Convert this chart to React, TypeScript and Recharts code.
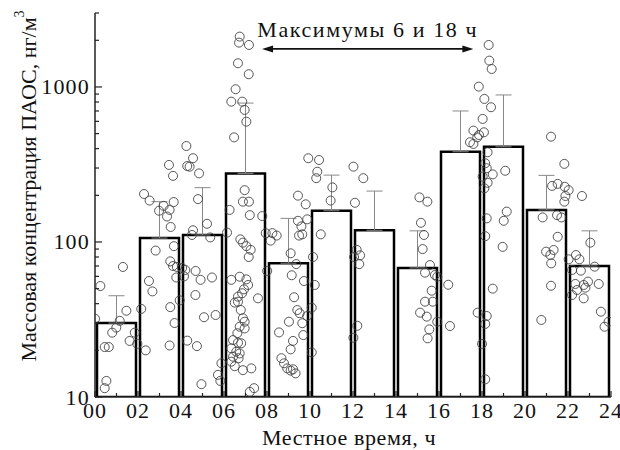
import { Bar, ComposedChart, ErrorBar, ReferenceLine, Scatter, XAxis, YAxis } from 'recharts';

const FONT = '"Liberation Serif", "Times New Roman", serif';

// 2-hour bins, bars centred at odd hours
const hours = [1, 3, 5, 7, 9, 11, 13, 15, 17, 19, 21, 23];
const means = [30, 106, 111, 277, 73, 159, 119, 68, 382, 411, 161, 70];
const uppers = [45, 182, 224, 787, 142, 270, 213, 118, 700, 888, 269, 118];

// individual samples per bin: [hour, ng/m3]
const pts00 = [[0.0, 32], [0.25, 52], [1.3, 69], [1.46, 36], [1.15, 31], [0.99, 28], [0.8, 26], [1.85, 26], [1.61, 23], [1.97, 22], [0.45, 21], [0.64, 21], [0.53, 12.7], [0.45, 11.4]];
const pts02 = [[3.44, 314], [3.63, 267], [2.28, 204], [2.54, 185], [3.19, 171], [3.66, 181], [2.98, 159], [3.47, 161], [3.35, 146], [3.52, 125], [2.82, 88], [3.67, 94], [3.5, 75], [3.63, 70], [3.78, 59], [2.51, 56], [2.67, 48], [2.15, 37], [3.5, 38], [3.7, 30], [2.36, 20], [3.47, 21.5], [3.94, 42], [3.81, 69]];
const pts04 = [[4.25, 416], [4.56, 347], [4.29, 309], [4.4, 306], [4.84, 277], [4.79, 189], [5.21, 131], [4.56, 119], [4.51, 111], [5.36, 107], [4.05, 68], [4.2, 66], [4.14, 60], [4.68, 65], [4.91, 57], [5.44, 59], [4.67, 45.5], [5.07, 32.7], [5.61, 33.8], [4.29, 23.1], [4.74, 21.3], [4.95, 12.1], [5.72, 13.9], [5.83, 12.7], [5.88, 16.5]];
const pts06 = [[6.73, 2113], [6.7, 1932], [7.16, 1866], [6.65, 1422], [7.15, 1208], [6.54, 967], [6.34, 804], [6.85, 804], [6.96, 711], [7.04, 597], [6.47, 473], [6.96, 216], [6.88, 182], [7.16, 182], [6.26, 161], [7.2, 149], [7.78, 147], [6.14, 115], [6.76, 104], [6.88, 99], [7.04, 94], [7.24, 89], [7.15, 80], [7.94, 114], [6.34, 57], [6.73, 59.7], [7.04, 57.4], [7.12, 52.8], [6.93, 49.5], [6.65, 44.4], [6.84, 46.7], [7.58, 43.3], [6.5, 40.6], [6.65, 41.2], [6.78, 36.4], [6.88, 32.2], [6.96, 30.6], [6.73, 28.4], [6.62, 25.8], [6.96, 27.7], [6.42, 23.3], [6.65, 22.4], [6.8, 22.2], [6.34, 20.6], [6.57, 19.6], [6.73, 19.1], [6.42, 18.2], [6.68, 17.8], [6.34, 16.9], [6.5, 15.8], [6.88, 14.9], [7.27, 15.3], [7.4, 11.4], [7.2, 10.8]];
const pts08 = [[8.25, 114], [8.45, 110], [8.17, 102], [9.92, 347], [9.44, 199], [9.8, 175], [9.44, 137], [9.87, 140], [9.6, 126], [9.49, 110], [9.64, 112], [9.1, 84.5], [9.36, 72], [8.01, 65], [9.15, 61], [9.72, 56], [9.26, 44], [9.41, 36.4], [9.52, 34.7], [9.87, 33.3], [9.64, 29.9], [9.02, 30.6], [8.56, 26.1], [9.69, 25.1], [9.21, 23], [9.1, 20.3], [8.67, 17.8], [8.79, 16.5], [8.94, 15.3], [9.1, 14.8], [9.33, 14.2], [9.21, 15.1]];
const pts10 = [[10.42, 338], [10.34, 284], [10.29, 258], [11.04, 225], [10.96, 185], [10.5, 112], [10.14, 80], [10.22, 52.8], [10.08, 37.7], [10.08, 19.4]];
const pts12 = [[12.02, 306], [12.48, 258], [12.09, 179], [12.17, 89], [12.33, 82], [12.05, 80], [12.29, 72], [12.2, 28.8], [12.02, 24.1]];
const pts14 = [[15.09, 194], [15.46, 182], [15.16, 133], [15.3, 111], [15.24, 90], [15.58, 71], [15.35, 63.4], [15.81, 61.2], [15.92, 59.7], [15.66, 48.5], [15.35, 41.2], [15.71, 41.2], [15.12, 35], [15.43, 33], [15.92, 30.6], [15.55, 27.3], [15.47, 23.9]];
const pts16 = [[16.43, 53], [16.51, 28.7], [17.85, 1005], [17.6, 523], [17.86, 490], [17.78, 473], [17.44, 440], [17.6, 429], [17.8, 35], [18.0, 22], [18.03, 622], [18.03, 264]];
const pts18 = [[18.31, 1866], [18.34, 1479], [18.45, 1306], [18.11, 837], [18.42, 740], [18.09, 510], [18.26, 379], [18.15, 322], [18.22, 299], [18.5, 273], [18.26, 241], [18.11, 222], [19.08, 288], [19.15, 157], [19.01, 137], [18.22, 142], [18.15, 109], [18.96, 93], [18.5, 50], [18.22, 33.3], [18.15, 29.6], [18.15, 13]];
const pts20 = [[21.21, 478], [21.83, 319], [21.26, 230], [21.52, 237], [21.85, 227], [21.88, 198], [21.83, 182], [20.82, 144], [21.49, 149], [21.69, 144], [21.52, 108], [20.98, 86.6], [21.18, 82.4], [21.33, 88.8], [21.22, 72.8], [21.21, 52.2], [20.76, 31.4]];
const pts22 = [[22.03, 216], [22.65, 198], [23.04, 99], [22.03, 77.3], [22.37, 82.4], [22.53, 77.3], [22.19, 66], [22.6, 65.3], [23.24, 69.3], [22.34, 53.6], [22.73, 52.8], [22.93, 55.5], [22.81, 50.7], [23.43, 53.6], [22.19, 45.5], [22.42, 49], [22.73, 43.3], [23.53, 35.5], [23.89, 30.6], [23.7, 28.4]];

const xTicks = Array.from({ length: 25 }, (_, i) => i);
const yTicks = [10, 20, 30, 40, 50, 60, 70, 80, 90, 100, 200, 300, 400, 500, 600, 700, 800, 900, 1000, 2000, 3000];
const yLabels = [10, 100, 1000];

// arrow annotation "maxima at 6 and 18 h"
const arrowFrom = 7.77;
const arrowTo = 17.6;
const arrowLevel = 1760;

const barData = hours.map((h, i) => ({ h, mean: means[i], err: [0, uppers[i] - means[i]] }));
const pointData = [pts00, pts02, pts04, pts06, pts08, pts10, pts12, pts14, pts16, pts18, pts20, pts22]
  .flat()
  .map(([h, v]) => ({ h, v }));

const ink = '#222';

function XTick({ x, y, payload }: any) {
  const v = payload.value as number;
  const even = v % 2 === 0;
  return (
    <g>
      <line x1={x} x2={x} y1={y} y2={y - (even ? 6 : 4)} stroke={ink} strokeWidth={1.2} />
      {even && (
        <text x={x} y={y + 21} textAnchor="middle" fontFamily={FONT} fontSize={22} letterSpacing={1} fill="#111">
          {String(v).padStart(2, '0')}
        </text>
      )}
    </g>
  );
}

function YTick({ x, y, payload }: any) {
  const v = payload.value as number;
  const major = yLabels.includes(v);
  return (
    <g>
      <line x1={x} x2={x + (major ? 7 : 4)} y1={y} y2={y} stroke={ink} strokeWidth={1.2} />
      {major && (
        <text x={x - 5} y={y + 7.5} textAnchor="end" fontFamily={FONT} fontSize={22} letterSpacing={1.2} fill="#111">
          {v}
        </text>
      )}
    </g>
  );
}

function Dot({ cx, cy }: any) {
  return <circle cx={cx} cy={cy} r={4.5} fill="none" stroke="#444" strokeWidth={0.9} />;
}

function Arrow({ x1, y1, x2, y2 }: any) {
  const mid = (x1 + x2) / 2;
  return (
    <g>
      <line x1={x1 + 6} y1={y1} x2={x2 - 6} y2={y2} stroke="#111" strokeWidth={1.6} />
      <polygon points={`${x1},${y1} ${x1 + 11},${y1 - 3.5} ${x1 + 11},${y1 + 3.5}`} fill="#111" />
      <polygon points={`${x2},${y2} ${x2 - 11},${y2 - 3.5} ${x2 - 11},${y2 + 3.5}`} fill="#111" />
      <text x={mid} y={y1 - 12} textAnchor="middle" fontFamily={FONT} fontSize={22} letterSpacing={1.6} fill="#111">
        Максимумы 6 и 18 ч
      </text>
    </g>
  );
}

export default function App() {
  return (
    <div style={{ position: 'absolute', left: 0, top: 0, background: '#fff' }}>
      <ComposedChart width={620} height={450} data={barData} margin={{ top: 13, right: 9, bottom: 0, left: 0 }}>
        <XAxis xAxisId="b" dataKey="h" type="number" domain={[0, 24]} hide height={0} allowDataOverflow />
        <XAxis
          xAxisId="t" dataKey="h" type="number" domain={[0, 24]} ticks={xTicks} interval={0}
          tick={<XTick />} tickSize={0} tickMargin={0} height={53}
          axisLine={{ stroke: ink, strokeWidth: 1.5 }} allowDataOverflow
          label={(p: any) => (
            <text x={p.viewBox.x + p.viewBox.width / 2 - 4} y={445} textAnchor="middle" fontFamily={FONT} fontSize={22} letterSpacing={0.6} fill="#111">
              Местное время, ч
            </text>
          )}
        />
        <YAxis
          scale="log" type="number" domain={[10, 3000]} ticks={yTicks} interval={0} allowDataOverflow
          tick={<YTick />} tickSize={0} tickMargin={0} width={95}
          axisLine={{ stroke: ink, strokeWidth: 1.5 }}
          label={() => {
            const cx = 28;
            const cy = 186;
            return (
              <text x={cx} y={cy} transform={`rotate(-90 ${cx} ${cy})`} textAnchor="middle" dominantBaseline="central"
                fontFamily={FONT} fontSize={22} fill="#111">
                Массовая концентрация ПАОС, нг/м<tspan dy={-9} fontSize={14}>3</tspan>
              </text>
            );
          }}
        />
        <Scatter xAxisId="t" data={pointData} dataKey="v" shape={<Dot />} isAnimationActive={false} />
        <Bar xAxisId="b" dataKey="mean" barSize={39} fill="none" stroke="#000" strokeWidth={2.5} isAnimationActive={false}>
          <ErrorBar dataKey="err" direction="y" width={8} stroke="#888" strokeWidth={1} />
        </Bar>
        <ReferenceLine
          xAxisId="t" ifOverflow="visible"
          segment={[{ x: arrowFrom, y: arrowLevel }, { x: arrowTo, y: arrowLevel }]}
          shape={<Arrow />}
        />
      </ComposedChart>
    </div>
  );
}
